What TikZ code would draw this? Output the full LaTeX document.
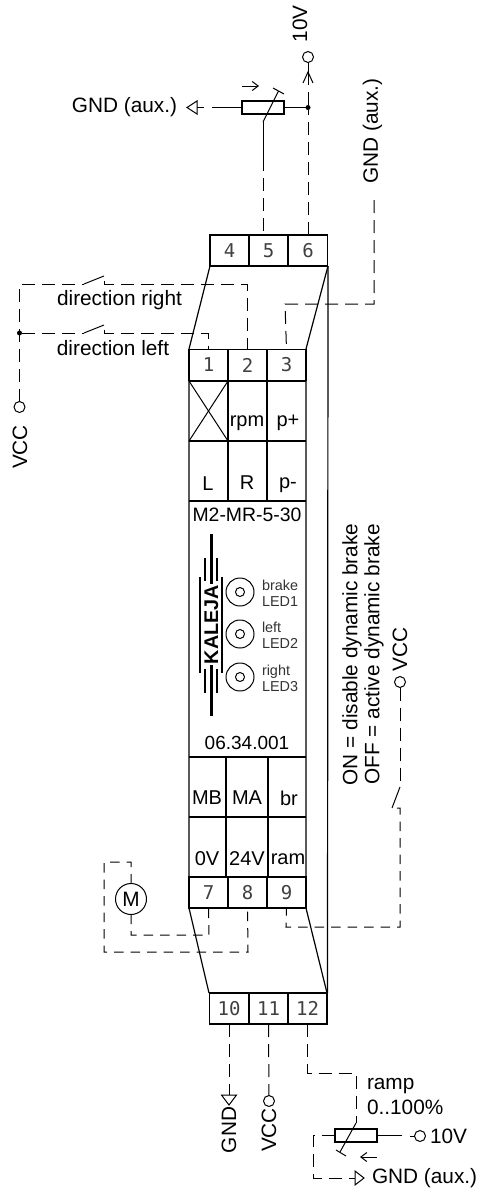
\documentclass[tikz,border=0pt]{standalone}
\usepackage{fontspec}
\setmainfont{Liberation Sans}
\newfontfamily\termfont{DejaVu Sans Mono}
\usetikzlibrary{arrows.meta}
\tikzset{
	every node/.style={font=\fontsize{20.8}{22}\selectfont, inner sep=0pt, outer sep=0pt},
	wire/.style={line width=1pt, dash pattern=on 13pt off 7pt},
	shortwire/.style={line width=1pt, dash pattern=on 9.5pt off 7pt},
	lead/.style={line width=1pt},
	frame/.style={line width=1.2pt},
	bar/.style={line width=2.2pt},
	term/.style={draw, frame, minimum width=39pt, minimum height=31pt, text=black!75, font=\termfont\fontsize{19}{20}\selectfont},
	res/.style={draw, line width=2pt, minimum width=42pt, minimum height=13pt},
	port/.style={draw, lead, circle, minimum size=11pt},
	dot/.style={fill, circle, minimum size=5pt},
	led/.style={draw, lead, circle, minimum size=28pt},
	ledtext/.style={anchor=west, align=left, text=black!80, font=\fontsize{14.4}{16}\selectfont},
	cell/.style={font=\fontsize{20}{22}\selectfont},
	flow/.style={lead, -{Straight Barb[length=6pt,width=9pt]}}
}
\begin{document}
\begin{tikzpicture}[x=1pt,y=-1pt]
	\useasboundingbox (0,0) rectangle (479,1194);
	% housing
	\draw[frame] (210,266) -- (189,349) -- (189,908) -- (209,993);
	\draw[frame] (328,266) -- (306,349) -- (306,908) -- (327,993);
	\draw[frame] (328,266) -- (327.5,993);
	\draw[frame] (189,441) -- (306,441);
	\draw[frame] (189,501) -- (306,501);
	\draw[frame] (189,757) -- (306,757);
	\draw[frame] (189,817) -- (306,817);
	\draw[frame] (228,381) -- (228,501);
	\draw[frame] (267,381) -- (267,501);
	\draw[frame] (226,757) -- (226,877);
	\draw[frame] (268,757) -- (268,877);
	\draw[lead] (189,381) -- (228,441);
	\draw[lead] (228,381) -- (189,441);
	% terminals
	\node[term] (t4) at (229.5,250.5) {4};
	\node[term] (t5) at (268.5,250.5) {5};
	\node[term] (t6) at (308,250.5) {6};
	\node[term] (t1) at (208.5,365) {1};
	\node[term] (t2) at (247.5,365) {2};
	\node[term] (t3) at (286.5,365) {3};
	\node[term] (t7) at (208.5,892.5) {7};
	\node[term] (t8) at (247.5,892.5) {8};
	\node[term] (t9) at (286.5,892.5) {9};
	\node[term] (t10) at (229,1008.5) {10};
	\node[term] (t11) at (268.5,1008.5) {11};
	\node[term] (t12) at (307.5,1008.5) {12};
	\draw[bar] (189,381) -- (306,381);
	\draw[bar] (189,877) -- (306,877);
	% cell texts
	\node[cell] (rpm) at (247,423) {rpm};
	\node[cell] (pplus) at (288,423) {p+};
	\node[cell] (lL) at (208,484) {L};
	\node[cell] (lR) at (247,483) {R};
	\node[cell] (pminus) at (288,485) {p-};
	\node[cell] (mb) at (207,798) {MB};
	\node[cell] (ma) at (247,798) {MA};
	\node[cell] (br) at (289,798) {br};
	\node[cell] (zero) at (207,859) {0V};
	\node[cell] (tf) at (247,859) {24V};
	\node[cell] (ram) at (288,859) {ram};
	\node[font=\fontsize{19.4}{20}\selectfont] (type) at (247,515) {M2-MR-5-30};
	\node[font=\fontsize{19}{20}\selectfont] (order) at (247,743) {06.34.001};
	% logo
	\node[rotate=90, font=\bfseries\fontsize{19.8}{20}\selectfont] (logo) at (211.5,624.5) {KALEJA};
	\draw[bar] (211.5,534) -- (211.5,584);
	\draw[bar] (211.5,665) -- (211.5,716);
	\draw[bar] (205,558) -- (205,581);
	\draw[bar] (217,558) -- (217,581);
	\draw[bar] (205,669) -- (205,693);
	\draw[bar] (217,669) -- (217,693);
	\draw[bar] (200,577) -- (200,673);
	\draw[bar] (222,577) -- (222,673);
	% leds
	\node[led] (led1) at (240,592) {};
	\node[led] (led2) at (240,634) {};
	\node[led] (led3) at (240,677) {};
	\node[port, minimum size=9pt] (in1) at (240,592) {};
	\node[port, minimum size=9pt] (in2) at (240,634) {};
	\node[port, minimum size=9pt] (in3) at (240,677) {};
	\node[ledtext] (txt1) at (262,593) {brake\\LED1};
	\node[ledtext] (txt2) at (262,635) {left\\LED2};
	\node[ledtext] (txt3) at (262,678) {right\\LED3};
	% speed pot
	\node[res] (pot) at (263,107.5) {};
	\node[dot] (j6) at (308,107.5) {};
	\node[port] (p10) at (308,57) {};
	\node[rotate=90] (l10) at (300,24) {10V};
	\node (lgnd) at (124.5,107) {GND (aux.)};
	\coordinate (wiper) at (263,122);
	\coordinate (gnd1) at (187,107.5);
	\draw[lead] (pot.east) -- (j6);
	\draw[lead] (pot.west) -- (212,107.5);
	\draw[lead] (204,107.5) -- (197,107.5);
	\draw[lead] (gnd1) -- ++(10,-6.5) -- ++(0,13) -- cycle;
	\draw[lead] (wiper) -- (278.5,91);
	\draw[lead] (273,88) -- (284,94);
	\draw[flow] (242,86) -- (259,86);
	\draw[lead] (wiper) -- (263,158);
	\draw[wire] (263,158) -- (wiper |- t5.north);
	\draw[wire] (t6.north) -- (j6);
	\draw[wire] (j6) -- (308,72);
	\draw[lead] (p10) -- (308,72);
	\draw[lead] (303,83) -- (308,72) -- (313,83);
	% gnd aux
	\node[rotate=90] (laux) at (372.5,131) {GND (aux.)};
	\coordinate (aux) at (374,200);
	\draw[wire] (aux) |- (285,304) -- (t3.north);
	% direction
	\node[port] (vcc) at (19.5,407) {};
	\node[rotate=90] (lvcc) at (20,447) {VCC};
	\node[dot] (jl) at (19.5,333) {};
	\coordinate (swra) at (84,284);
	\coordinate (swla) at (84,333);
	\node (ldr) at (119.5,300) {direction right};
	\node (ldl) at (113,348) {direction left};
	\draw[wire] (vcc.north) |- (swra);
	\draw[lead] (swra) -- (104,276);
	\draw[wire] (104,281) -- (104,284) -| (t2.north);
	\draw[wire] (jl) -- (swla);
	\draw[lead] (swla) -- (104,325);
	\draw[wire] (104,330) -- (104,333) -| (t1.north);
	% motor
	\node[draw, lead, circle, minimum size=31pt] (motor) at (131,899) {M};
	\draw[shortwire] (motor.north) |- (104,862) |- (248,952) -- (t8.south);
	\draw[shortwire] (motor.south) |- (209,935) -- (t7.south);
	% brake
	\node[port] (pb) at (400,682) {};
	\node[rotate=90] (lvccb) at (400,649.5) {VCC};
	\node[rotate=90] (on) at (352,654.5) {ON = disable dynamic brake};
	\node[rotate=90] (off) at (374,654.5) {OFF = active dynamic brake};
	\coordinate (swba) at (400,787);
	\draw[wire] (pb.south) -- (swba);
	\draw[lead] (swba) -- (392,808);
	\draw[shortwire] (397,808) -- (400,808) |- (286,927) -- (t9.south);
	% supply
	\node[port] (p11) at (269,1101) {};
	\node[rotate=90] (lgnd2) at (229,1130) {GND};
	\node[rotate=90] (lvcc2) at (269,1130) {VCC};
	\coordinate (gnd2) at (229,1105);
	\draw[wire] (t10.south) -- (229,1095);
	\draw[lead] (gnd2) -- ++(-7.5,-10) -- ++(15,0) -- cycle;
	\draw[wire] (t11.south) -- (p11);
	% ramp pot
	\node[res] (rpot) at (355.5,1135.5) {};
	\node[port] (p10b) at (420,1136) {};
	\node[anchor=west] (l10b) at (430,1136) {10V};
	\node[anchor=west] (lramp) at (367,1086) {ramp};
	\node[anchor=west] (lperc) at (367,1107) {0..100\%};
	\node[anchor=west] (lgnd3) at (372,1178) {GND (aux.)};
	\coordinate (rwiper) at (356,1123);
	\coordinate (gnd3) at (364,1178);
	\draw[wire] (t12.south) |- (356,1073) -- (rwiper);
	\draw[lead] (rwiper) -- (340,1152);
	\draw[lead] (336,1150) -- (346,1156);
	\draw[flow] (377,1157) -- (360,1157);
	\draw[lead] (rpot.east) -- (402,1135.5);
	\draw[lead] (410,1136) -- (p10b);
	\draw[wire] (rpot.west) -| (313,1178) -- (355,1178);
	\draw[lead] (gnd3) -- ++(-9,-7) -- ++(0,14) -- cycle;
\end{tikzpicture}
\end{document}
